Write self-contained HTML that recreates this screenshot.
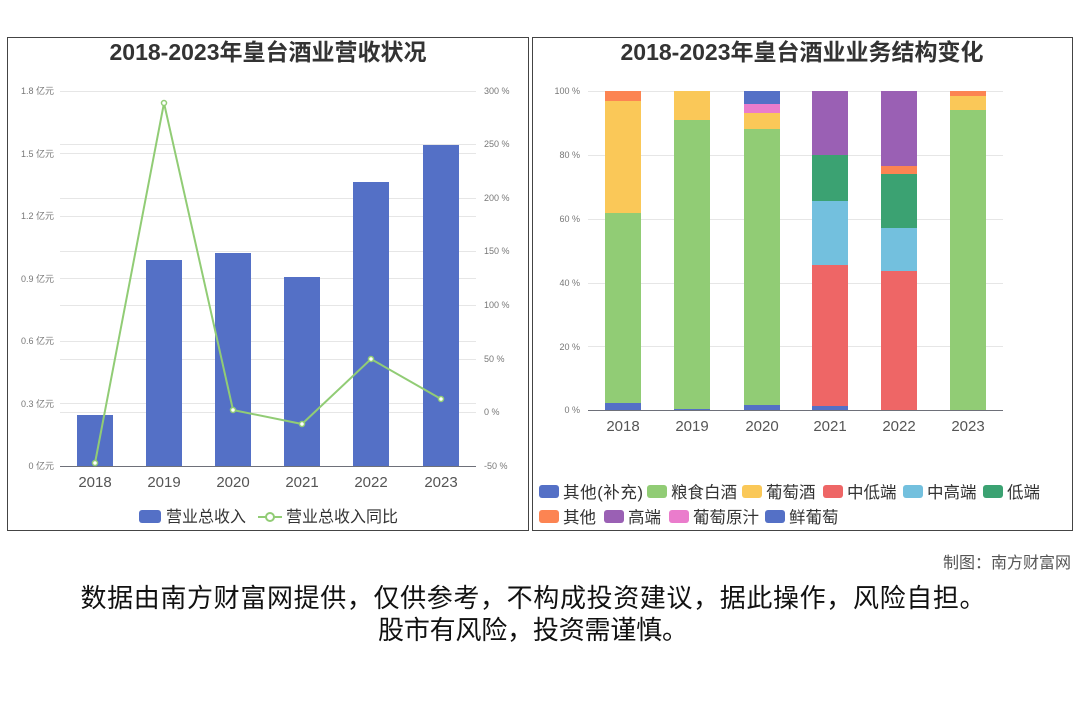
<!DOCTYPE html>
<html><head><meta charset="utf-8"><style>
body{margin:0;background:#fff;}
svg{display:block;font-family:"Liberation Sans","Noto Sans CJK SC",sans-serif;}
</style></head><body>
<svg width="1080" height="720" viewBox="0 0 1080 720" xmlns="http://www.w3.org/2000/svg">
<rect width="1080" height="720" fill="#fff"/>
<!-- Left panel -->
<rect x="7.5" y="37.5" width="521" height="493" fill="none" stroke="#444" stroke-width="1"/>
<text x="268" y="60" text-anchor="middle" font-size="23" font-weight="bold" fill="#333">2018-2023年皇台酒业营收状况</text>
<g stroke="#e6e6e6" stroke-width="1">
<line x1="60" y1="91.5" x2="476" y2="91.5"/><line x1="60" y1="144.5" x2="476" y2="144.5"/>
<line x1="60" y1="153.5" x2="476" y2="153.5"/><line x1="60" y1="198.5" x2="476" y2="198.5"/>
<line x1="60" y1="216.5" x2="476" y2="216.5"/><line x1="60" y1="251.5" x2="476" y2="251.5"/>
<line x1="60" y1="278.5" x2="476" y2="278.5"/><line x1="60" y1="305.5" x2="476" y2="305.5"/>
<line x1="60" y1="341.5" x2="476" y2="341.5"/><line x1="60" y1="359.5" x2="476" y2="359.5"/>
<line x1="60" y1="403.5" x2="476" y2="403.5"/><line x1="60" y1="412.5" x2="476" y2="412.5"/>
</g>
<line x1="60" y1="466.5" x2="476" y2="466.5" stroke="#6e7079"/>
<g font-size="9" fill="#777" text-anchor="end">
<text x="54" y="94">1.8 亿元</text><text x="54" y="157">1.5 亿元</text><text x="54" y="219">1.2 亿元</text>
<text x="54" y="282">0.9 亿元</text><text x="54" y="344">0.6 亿元</text><text x="54" y="407">0.3 亿元</text><text x="54" y="469">0 亿元</text>
</g>
<g font-size="9" fill="#777">
<text x="484" y="94">300 %</text><text x="484" y="147">250 %</text><text x="484" y="201">200 %</text>
<text x="484" y="254">150 %</text><text x="484" y="308">100 %</text><text x="484" y="362">50 %</text>
<text x="484" y="415">0 %</text><text x="484" y="469">-50 %</text>
</g>
<g fill="#5470c6">
<rect x="77" y="415" width="36" height="51"/><rect x="146" y="260" width="36" height="206"/>
<rect x="215" y="253" width="36" height="213"/><rect x="284" y="277" width="36" height="189"/>
<rect x="353" y="182" width="36" height="284"/><rect x="423" y="145" width="36" height="321"/>
</g>
<polyline points="95,463 164,103 233,410 302,424 371,359 441,399" fill="none" stroke="#91cc75" stroke-width="2"/>
<g fill="#fff" stroke="#91cc75" stroke-width="1.5">
<circle cx="95" cy="463" r="2.5"/><circle cx="164" cy="103" r="2.5"/><circle cx="233" cy="410" r="2.5"/>
<circle cx="302" cy="424" r="2.5"/><circle cx="371" cy="359" r="2.5"/><circle cx="441" cy="399" r="2.5"/>
</g>
<g font-size="15" fill="#555" text-anchor="middle">
<text x="95" y="487">2018</text><text x="164" y="487">2019</text><text x="233" y="487">2020</text>
<text x="302" y="487">2021</text><text x="371" y="487">2022</text><text x="441" y="487">2023</text>
</g>
<rect x="139" y="510" width="22" height="13" rx="3" fill="#5470c6"/>
<text x="166" y="522" font-size="16" fill="#333">营业总收入</text>
<line x1="258" y1="517" x2="282" y2="517" stroke="#91cc75" stroke-width="2"/>
<circle cx="270" cy="517" r="4" fill="#fff" stroke="#91cc75" stroke-width="2"/>
<text x="286" y="522" font-size="16" fill="#333">营业总收入同比</text>

<!-- Right panel -->
<rect x="532.5" y="37.5" width="540" height="493" fill="none" stroke="#444" stroke-width="1"/>
<text x="802" y="60" text-anchor="middle" font-size="23" font-weight="bold" fill="#333">2018-2023年皇台酒业业务结构变化</text>
<g stroke="#e6e6e6">
<line x1="588" y1="91.5" x2="1003" y2="91.5"/><line x1="588" y1="155.5" x2="1003" y2="155.5"/>
<line x1="588" y1="219.5" x2="1003" y2="219.5"/><line x1="588" y1="283.5" x2="1003" y2="283.5"/>
<line x1="588" y1="346.5" x2="1003" y2="346.5"/>
</g>
<line x1="588" y1="410.5" x2="1003" y2="410.5" stroke="#6e7079"/>
<g font-size="9" fill="#777" text-anchor="end">
<text x="580" y="94">100 %</text><text x="580" y="158">80 %</text><text x="580" y="222">60 %</text>
<text x="580" y="286">40 %</text><text x="580" y="350">20 %</text><text x="580" y="413">0 %</text>
</g>
<rect x="605" y="403" width="36" height="7" fill="#5470c6"/>
<rect x="605" y="213" width="36" height="190" fill="#91cc75"/>
<rect x="605" y="101" width="36" height="112" fill="#fac858"/>
<rect x="605" y="91" width="36" height="10" fill="#fc8452"/>
<rect x="674" y="409" width="36" height="1" fill="#5470c6"/>
<rect x="674" y="120" width="36" height="289" fill="#91cc75"/>
<rect x="674" y="91" width="36" height="29" fill="#fac858"/>
<rect x="744" y="405" width="36" height="5" fill="#5470c6"/>
<rect x="744" y="129" width="36" height="276" fill="#91cc75"/>
<rect x="744" y="113" width="36" height="16" fill="#fac858"/>
<rect x="744" y="104" width="36" height="9" fill="#ea7ccc"/>
<rect x="744" y="91" width="36" height="13" fill="#5470c6"/>
<rect x="812" y="406" width="36" height="4" fill="#5470c6"/>
<rect x="812" y="265" width="36" height="141" fill="#ee6666"/>
<rect x="812" y="201" width="36" height="64" fill="#73c0de"/>
<rect x="812" y="155" width="36" height="46" fill="#3ba272"/>
<rect x="812" y="91" width="36" height="64" fill="#9a60b4"/>
<rect x="881" y="271" width="36" height="139" fill="#ee6666"/>
<rect x="881" y="228" width="36" height="43" fill="#73c0de"/>
<rect x="881" y="174" width="36" height="54" fill="#3ba272"/>
<rect x="881" y="166" width="36" height="8" fill="#fc8452"/>
<rect x="881" y="91" width="36" height="75" fill="#9a60b4"/>
<rect x="950" y="110" width="36" height="300" fill="#91cc75"/>
<rect x="950" y="96" width="36" height="14" fill="#fac858"/>
<rect x="950" y="91" width="36" height="5" fill="#fc8452"/>
<g font-size="15" fill="#555" text-anchor="middle">
<text x="623" y="431">2018</text><text x="692" y="431">2019</text><text x="762" y="431">2020</text>
<text x="830" y="431">2021</text><text x="899" y="431">2022</text><text x="968" y="431">2023</text>
</g>
<g font-size="16.5" fill="#333">
<rect x="539" y="485" width="20" height="13" rx="3" fill="#5470c6"/><text x="563" y="498" textLength="80">其他(补充)</text>
<rect x="647" y="485" width="20" height="13" rx="3" fill="#91cc75"/><text x="671" y="498">粮食白酒</text>
<rect x="742" y="485" width="20" height="13" rx="3" fill="#fac858"/><text x="766" y="498">葡萄酒</text>
<rect x="823" y="485" width="20" height="13" rx="3" fill="#ee6666"/><text x="847" y="498">中低端</text>
<rect x="903" y="485" width="20" height="13" rx="3" fill="#73c0de"/><text x="927" y="498">中高端</text>
<rect x="983" y="485" width="20" height="13" rx="3" fill="#3ba272"/><text x="1007" y="498">低端</text>
<rect x="539" y="510" width="20" height="13" rx="3" fill="#fc8452"/><text x="563" y="523">其他</text>
<rect x="604" y="510" width="20" height="13" rx="3" fill="#9a60b4"/><text x="628" y="523">高端</text>
<rect x="669" y="510" width="20" height="13" rx="3" fill="#ea7ccc"/><text x="693" y="523">葡萄原汁</text>
<rect x="765" y="510" width="20" height="13" rx="3" fill="#5470c6"/><text x="789" y="523">鲜葡萄</text>
</g>

<text x="1071" y="568" text-anchor="end" font-size="16" fill="#555">制图：南方财富网</text>
<text x="533" y="607" text-anchor="middle" font-size="26" fill="#111" textLength="905">数据由南方财富网提供，仅供参考，不构成投资建议，据此操作，风险自担。</text>
<text x="533" y="639" text-anchor="middle" font-size="26" fill="#111" textLength="310">股市有风险，投资需谨慎。</text>
</svg>
</body></html>
